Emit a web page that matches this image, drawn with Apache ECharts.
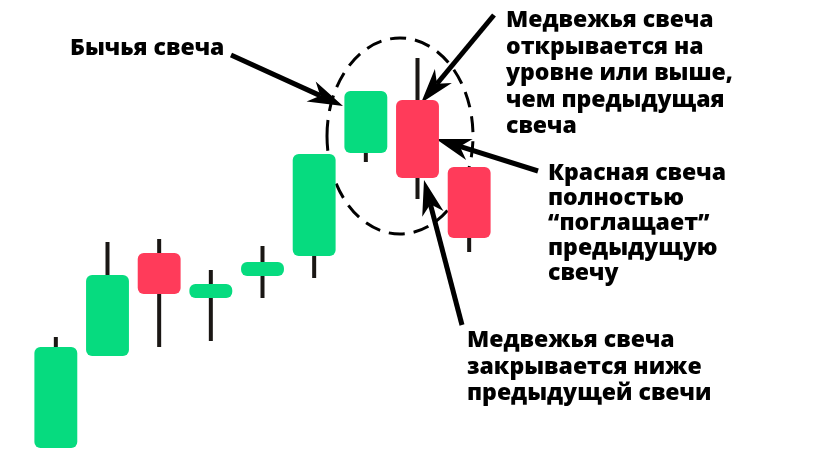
<!DOCTYPE html>
<html>
<head>
<meta charset="utf-8">
<script src="https://cdn.jsdelivr.net/npm/echarts@6/dist/echarts.min.js"></script>
<style>html,body{margin:0;padding:0;background:#fff}#c{width:835px;height:464px}</style>
</head>
<body>
<div id="c"></div>
<script>
// Candle data (price units)
var categories = ['1','2','3','4','5','6','7','8','9'];
var openValues  = [3,    26,   51.75, 40.5, 46,   51,   76.75, 90,    73.25];
var closeValues = [28.25,46.25,41.5,  44,   49.5, 76.5, 92.25, 70.5,  55.5];
var lowValues   = [3,    26,   28.25, 29.75,40.5, 45.5, 74.5,  65.25, 52];
var highValues  = [30.75,54.5, 55.25, 47.5, 53.5, 76.5, 92.25, 100.5, 73.25];

// Annotation texts
var bullLabel = 'Бычья свеча';
var openLabel = ['Медвежья свеча','открывается на','уровне или выше,','чем предыдущая','свеча'];
var engulfLabel = ['Красная свеча','полностью','\u201Cпоглащает\u201D','предыдущую','свечу'];
var closeLabel = ['Медвежья свеча','закрывается ниже','предыдущей свечи'];

var GREEN = '#06DB7F', RED = '#FF3B5A', WICK = '#1a1714';
var FONT = '800 23px "Open Sans", "DejaVu Sans", sans-serif';

var seriesData = categories.map(function (c, i) {
  return [i, openValues[i], closeValues[i], lowValues[i], highValues[i]];
});

function renderItem(params, api) {
  var x = api.value(0);
  var o = api.value(1), c = api.value(2), l = api.value(3), h = api.value(4);
  var pO = api.coord([x, o]), pC = api.coord([x, c]);
  var pL = api.coord([x, l]), pH = api.coord([x, h]);
  var w = api.size([1, 0])[0] * 0.83;
  var top = Math.min(pO[1], pC[1]), bot = Math.max(pO[1], pC[1]);
  var color = c >= o ? GREEN : RED;
  return {
    type: 'group',
    children: [
      { type: 'line', shape: { x1: pH[0], y1: pH[1], x2: pL[0], y2: pL[1] },
        style: { stroke: WICK, lineWidth: 4, lineCap: 'butt' } },
      { type: 'rect', shape: { x: pO[0] - w / 2, y: top, width: w, height: bot - top, r: 6 },
        style: { fill: color } }
    ]
  };
}

function arrow(x0, y0, x1, y1) {
  var dx = x1 - x0, dy = y1 - y0, len = Math.sqrt(dx * dx + dy * dy);
  var ux = dx / len, uy = dy / len, nx = -uy, ny = ux;
  var hl = 35, hw = 11, notch = 10;
  var bx = x1 - ux * hl, by = y1 - uy * hl;
  var mx = x1 - ux * (hl - notch), my = y1 - uy * (hl - notch);
  return [
    { type: 'line', shape: { x1: x0, y1: y0, x2: mx, y2: my }, style: { stroke: '#000', lineWidth: 5 } },
    { type: 'polygon', shape: { points: [[x1, y1], [bx + nx * hw, by + ny * hw], [mx, my], [bx - nx * hw, by - ny * hw]] },
      style: { fill: '#000' } }
  ];
}

function textBlock(lines, x, y0, lh) {
  return lines.map(function (t, i) {
    return { type: 'text', x: x, y: y0 + i * lh,
      style: { text: t, font: FONT, fill: '#000', textVerticalAlign: 'bottom', verticalAlign: 'bottom' } };
  });
}

var chart = echarts.init(document.getElementById('c'));
var graphics = []
  .concat([{ type: 'ellipse', shape: { cx: 400, cy: 136, rx: 73, ry: 98 },
             style: { fill: 'none', stroke: '#000', lineWidth: 3, lineDash: [16, 9] } }])
  .concat(arrow(231, 55, 343, 106))
  .concat(arrow(494, 15, 421, 103))
  .concat(arrow(538, 171, 436, 139))
  .concat(arrow(462, 325, 424, 180))
  .concat(textBlock([bullLabel], 70, 60, 27))
  .concat(textBlock(openLabel, 506, 32, 26.5))
  .concat(textBlock(engulfLabel, 548, 185, 25))
  .concat(textBlock(closeLabel, 467, 352, 26.5));

chart.setOption({
  animation: false,
  backgroundColor: '#fff',
  grid: { left: 30, width: 465, top: 40, bottom: 4 },
  xAxis: { type: 'category', data: categories, show: false, boundaryGap: true },
  yAxis: { type: 'value', min: 0, max: 105, show: false },
  series: [{ type: 'custom', renderItem: renderItem, data: seriesData, z: 2 }],
  graphic: graphics
});
</script>
</body>
</html>
